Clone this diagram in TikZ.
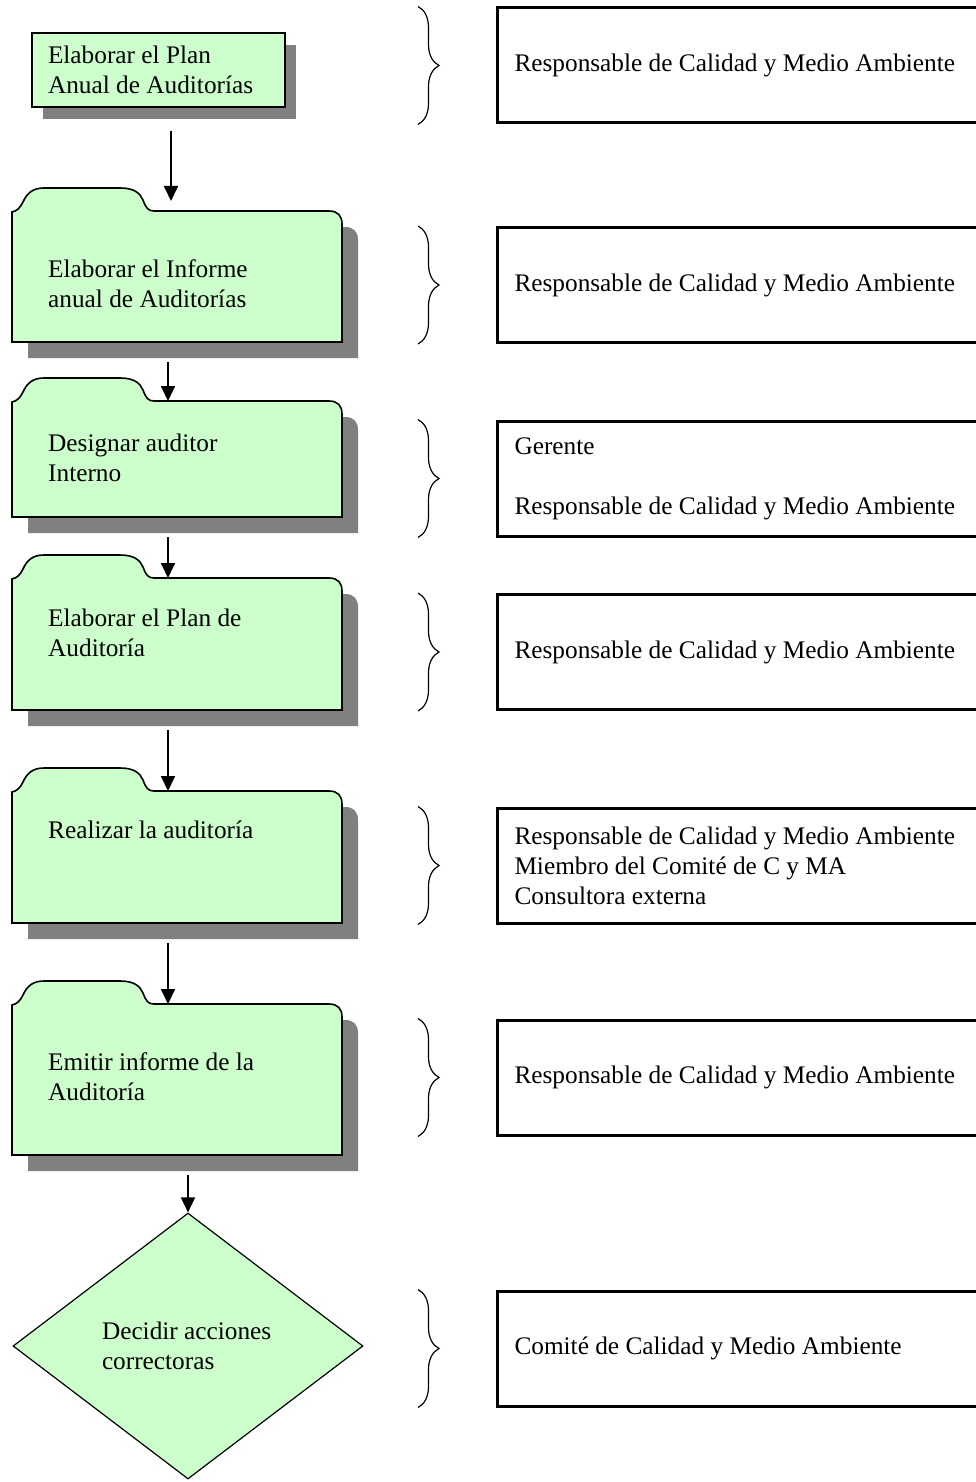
\documentclass[tikz,border=0pt]{standalone}
\usepackage{fontspec}
\setmainfont{Liberation Serif}
\usetikzlibrary{arrows.meta,shapes.geometric,shadows,decorations.pathreplacing}

\definecolor{paleGreen}{HTML}{CCFFCC}
\definecolor{shadowGrey}{HTML}{808080}

\newcommand{\labelfont}{\fontsize{25.3pt}{30pt}\selectfont}
% folder outline, body top left at (0,0), #1 = body height
\newcommand{\folderoutline}[1]{(0,#1) -- (0,1) .. controls (5,0) and (8,-3) .. (11,-9)
  .. controls (15,-18) and (21,-23) .. (32,-23) -- (108,-23)
  .. controls (122,-23) and (128,-18) .. (131,-11) .. controls (134,-3) and (136,0) .. (142,0)
  -- (317,0) .. controls (326,0) and (330,5) .. (330,13) -- (330,#1) -- cycle}
\newcommand{\foldershadow}[1]{(0,#1) -- (0,0) -- (317,0) .. controls (326,0) and (330,5) .. (330,13) -- (330,#1) -- cycle}

\tikzset{
  plainbox/.style={draw, line width=1.5pt, fill=paleGreen, minimum width=253pt, minimum height=74pt,
    text width=221pt, align=flush left, font=\labelfont,
    drop shadow={shadow xshift=11pt, shadow yshift=-12pt, fill=shadowGrey, opacity=1}},
  folderbody/.style={rectangle, anchor=north west, minimum width=330pt, inner sep=0pt, outer sep=0pt},
  folderline/.style={draw, line width=1.6pt, fill=paleGreen},
  steptext/.style={anchor=base west, align=left, inner sep=0pt, font=\labelfont},
  decision/.style={diamond, draw, line width=1.2pt, fill=paleGreen, minimum width=350pt, minimum height=266pt,
    inner sep=0pt, text width=172pt, align=flush left, font=\labelfont},
  rolebox/.style={draw, line width=3pt, anchor=west, minimum height=115pt, text width=480pt,
    inner xsep=17pt, align=flush left, font=\labelfont},
  roleBrace/.style={decorate, decoration={brace, amplitude=21pt}, line width=1.2pt},
  flow/.style={->, line width=1.8pt},
  >={Triangle[width=14pt,length=15pt]}
}

\begin{document}
\begin{tikzpicture}[x=1pt,y=-1pt]
\useasboundingbox (0,0) rectangle (976,1482);

% first step
\node[plainbox] (plan) at (158.5,70) {Elaborar el Plan\\Anual de Auditorías};

% folders: name / body top / body height
\foreach \f/\y/\h in {f2/211/131, f3/401/116, f4/578/132, f5/791/132, f6/1004/151}{
  \node[folderbody, minimum height=\h pt] (\f) at (12,\y) {};
  \fill[shadowGrey, shift={(28,\y+16)}] \foldershadow{\h};
  \filldraw[folderline, shift={(12,\y)}] \folderoutline{\h};
}

% base of a two line text is its last line
\node[steptext] (t2) at (48,307) {Elaborar el Informe\\anual de Auditorías};
\node[steptext] (t3) at (48,481) {Designar auditor\\Interno};
\node[steptext] (t4) at (48,656) {Elaborar el Plan de\\Auditoría};
\node[steptext] (t5) at (48,838) {Realizar la auditoría};
\node[steptext] (t6) at (48,1100) {Emitir informe de la\\Auditoría};

\node[decision] (decide) at (188,1346) {Decidir acciones\\correctoras};

% arrows
\draw[flow, shorten >=10pt] ([xshift=12.5pt,yshift=-23pt]plan.south) coordinate (a1) -- (a1 |- f2.north);
\foreach \a/\b in {f2/f3, f3/f4, f4/f5, f5/f6}
  \draw[flow] ([xshift=-9pt,yshift=-20pt]\a.south) -- ([xshift=-9pt]\b.north);
\draw[flow] ([xshift=11pt,yshift=-20pt]f6.south) -- (decide.north);

% who does it
\node[rolebox] (r1) at (496,65.5) {Responsable de Calidad y Medio Ambiente};
\node[rolebox] (r2) at (496,285) {Responsable de Calidad y Medio Ambiente};
\node[rolebox] (r3) at (496,478.5) {Gerente\\[30pt]Responsable de Calidad y Medio Ambiente};
\node[rolebox] (r4) at (496,652) {Responsable de Calidad y Medio Ambiente};
\node[rolebox] (r5) at (496,865.5) {Responsable de Calidad y Medio Ambiente\\Miembro del Comité de C y MA\\Consultora externa};
\node[rolebox] (r6) at (496,1077.5) {Responsable de Calidad y Medio Ambiente};
\node[rolebox] (r7) at (496,1348.5) {Comité de Calidad y Medio Ambiente};

\foreach \r in {r1,r2,r3,r4,r5,r6,r7}
  \draw[roleBrace] ([xshift=-78pt]\r.north west) -- ([xshift=-78pt]\r.south west);
\end{tikzpicture}
\end{document}
